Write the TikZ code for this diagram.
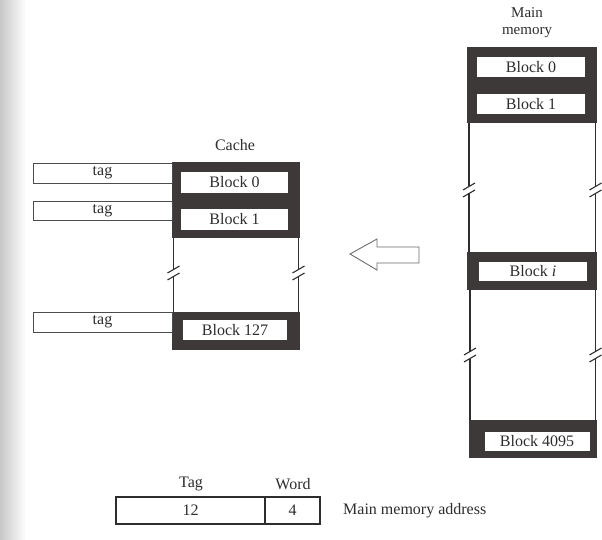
\documentclass[tikz,border=0pt]{standalone}
\usepackage{fontspec}
\setmainfont{Liberation Serif}
\begin{document}
\begin{tikzpicture}[x=1pt,y=-1pt,font=\fontsize{16}{17}\selectfont]
\definecolor{dk}{HTML}{3D3939}
\definecolor{ink}{HTML}{2E2C2C}
\tikzset{
  frame/.style={fill=dk,draw=none},
  blk/.style={fill=white,draw=none,inner sep=0pt,text=ink},
  tagbox/.style={draw=ink!85,line width=0.9pt,fill=white,inner sep=0pt,text=ink},
  side/.style={draw=ink,line width=1.4pt},
  brkline/.style={draw=ink,line width=1.1pt},
  lbl/.style={text=ink,inner sep=0pt},
  addr/.style={draw=ink,line width=1.6pt,inner sep=0pt,text=ink},
  hollowarrow/.style={draw=ink!70,line width=0.9pt,fill=white}
}
\newcommand\brkmark[2]{%
  \draw[brkline] (#1-6,#2) -- (#1+6,#2-7);
  \draw[brkline] (#1-6,#2+7) -- (#1+6,#2);}
\useasboundingbox (0,0) rectangle (602,540);
\shade[left color=black!22,right color=white,draw=none] (0,0) rectangle (26,540);

% ---------- Cache ----------
\node[lbl] (cachelbl) at (235,145) {Cache};
\fill[frame] (172,162) rectangle (300,238);
\fill[frame] (172,312) rectangle (300,350);
\draw[side] (173.5,238) -- (173.5,269.5);
\draw[side] (173.5,276.5) -- (173.5,312);
\draw[side] (298.5,238) -- (298.5,269.5);
\draw[side] (298.5,276.5) -- (298.5,312);
\brkmark{173.5}{273}
\brkmark{298.5}{273}
\node[blk,minimum width=107pt,minimum height=21pt] (c0) at (234.5,182.5) {Block 0};
\node[blk,minimum width=107pt,minimum height=21pt] (c1) at (234.5,219.5) {Block 1};
\node[blk,minimum width=104pt,minimum height=20pt] (c127) at (235,330) {Block 127};

\node[tagbox,minimum width=139pt,minimum height=20pt] (t0) at (102.5,173) {tag};
\node[tagbox,minimum width=139pt,minimum height=19pt] (t1) at (102.5,210.5) {tag};
\node[tagbox,minimum width=139pt,minimum height=20pt] (t127) at (102.5,322) {tag};

% ---------- Main memory ----------
\node[lbl,anchor=base,font=\fontsize{15}{16}\selectfont] (mmlbl1) at (527,18) {Main};
\node[lbl,anchor=base,font=\fontsize{15}{16}\selectfont] (mmlbl2) at (527,35) {memory};
\fill[frame] (467,47) rectangle (597,123);
\fill[frame] (467,252) rectangle (597,290);
\fill[frame] (469,420) rectangle (597,458);
\draw[side] (469,123) -- (469,186.5);
\draw[side] (469,193.5) -- (469,252);
\draw[side] (595.5,123) -- (595.5,186.5);
\draw[side] (595.5,193.5) -- (595.5,252);
\brkmark{469}{190}
\brkmark{595.5}{190}
\draw[side] (470,290) -- (470,351.5);
\draw[side] (470,358.5) -- (470,420);
\draw[side] (595.5,290) -- (595.5,351.5);
\draw[side] (595.5,358.5) -- (595.5,420);
\brkmark{470}{355}
\brkmark{595.5}{355}
\node[blk,minimum width=108pt,minimum height=20pt] (m0) at (531,67) {Block 0};
\node[blk,minimum width=108pt,minimum height=20pt] (m1) at (531,104) {Block 1};
\node[blk,minimum width=108pt,minimum height=19pt] (mi) at (533,271) {Block \textit{i}};
\node[blk,minimum width=105pt,minimum height=19pt] (m4095) at (537,441) {Block 4095};

% ---------- Arrow ----------
\draw[hollowarrow] (350,254) -- (377,239) -- (377,247) -- (419,247) -- (419,263) -- (377,263) -- (377,270) -- cycle;

% ---------- Address ----------
\node[addr,minimum width=149pt,minimum height=27pt] (atag) at (190.5,510.5) {12};
\node[addr,minimum width=55pt,minimum height=27pt] (aword) at (292.5,510.5) {4};
\node[lbl] (tagl) at (191,484) {Tag};
\node[lbl] (wordl) at (293,484) {Word};
\node[lbl,anchor=west] (addrl) at (343,511) {Main memory address};
\end{tikzpicture}
\end{document}
